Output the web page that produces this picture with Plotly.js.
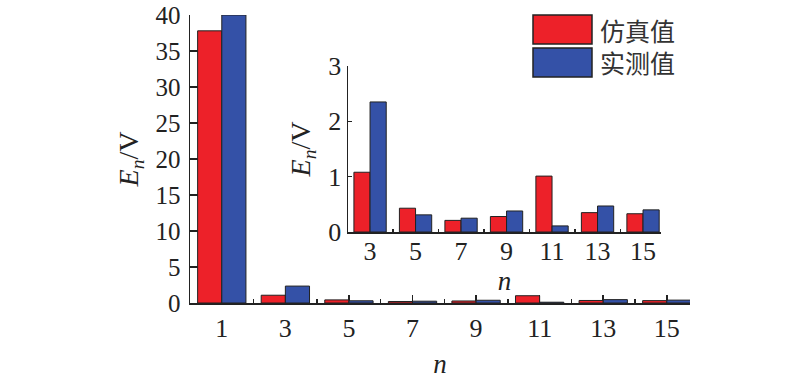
<!DOCTYPE html>
<html>
<head>
<meta charset="utf-8">
<script src="https://cdn.plot.ly/plotly-3.0.1.min.js"></script>
<style>html,body{margin:0;padding:0;background:#fff;}#chart{width:800px;height:380px;}</style>
</head>
<body>
<div id="chart"></div>
<script>
// Data
var harmonics = [1, 3, 5, 7, 9, 11, 13, 15];
var simValues = [37.8, 1.08, 0.43, 0.21, 0.28, 1.01, 0.35, 0.33];
var measValues = [40.0, 2.35, 0.31, 0.25, 0.38, 0.11, 0.47, 0.40];
var seriesNames = ['仿真值', '实测值'];
var yTitle = '<i>E</i><sub><i>n</i></sub>/V';
var xTitle = '<i>n</i>';

var RED = '#ED2129', BLUE = '#3451A7', EDGE = '#222222';
var serif = 'Liberation Serif';
var cjk = 'Noto Sans CJK SC';

var insetN = harmonics.slice(1), insetSim = simValues.slice(1), insetMeas = measValues.slice(1);
var wMain = 0.76, wIn = 0.71;

var traces = [
  {type:'bar', x:harmonics, y:simValues, name:seriesNames[0], xaxis:'x', yaxis:'y',
   width:wMain, offset:-wMain, marker:{color:RED, line:{color:EDGE, width:1}}, showlegend:false},
  {type:'bar', x:harmonics, y:measValues, name:seriesNames[1], xaxis:'x', yaxis:'y',
   width:wMain, offset:0, marker:{color:BLUE, line:{color:EDGE, width:1}}, showlegend:false},
  {type:'bar', x:insetN, y:insetSim, name:seriesNames[0], xaxis:'x2', yaxis:'y2',
   width:wIn, offset:-wIn, marker:{color:RED, line:{color:EDGE, width:1}}, showlegend:false},
  {type:'bar', x:insetN, y:insetMeas, name:seriesNames[1], xaxis:'x2', yaxis:'y2',
   width:wIn, offset:0, marker:{color:BLUE, line:{color:EDGE, width:1}}, showlegend:false}
];

var axCommon = {showline:true, linecolor:'#222', linewidth:1.5, showgrid:false, zeroline:false,
  ticks:'inside', tickcolor:'#222', tickwidth:1.5, layer:'below traces'};

var layout = {
  width:800, height:380,
  margin:{l:190, r:110, t:15, b:77},
  paper_bgcolor:'#fff', plot_bgcolor:'rgba(0,0,0,0)',
  barmode:'overlay',
  font:{family:serif, color:'#222'},
  xaxis: Object.assign({}, axCommon, {
    range:[0, 15.73], tickmode:'linear', tick0:1, dtick:2, ticklen:8,
    tickfont:{family:serif, size:26, color:'#222'}, ticklabelstandoff:1,
    minor:{dtick:1, ticks:'inside', ticklen:4, tickcolor:'#222', tickwidth:1.5},
    title:{text:xTitle, font:{family:serif, size:27, color:'#222'}, standoff:12},
    anchor:'y'
  }),
  yaxis: Object.assign({}, axCommon, {
    range:[0, 40], tickmode:'linear', tick0:0, dtick:5, ticklen:8,
    tickfont:{family:serif, size:25, color:'#222'}, ticklabelstandoff:3,
    title:{text:yTitle, font:{family:serif, size:28, color:'#222'}, standoff:8},
    anchor:'x'
  }),
  xaxis2: Object.assign({}, axCommon, {
    domain:[0.316, 0.942], anchor:'y2',
    range:[2.03, 15.79], tickmode:'linear', tick0:3, dtick:2, ticklen:6,
    tickfont:{family:serif, size:26, color:'#222'}, ticklabelstandoff:-5,
    minor:{dtick:1, ticks:'inside', ticklen:3, tickcolor:'#222', tickwidth:1.5},
    title:{text:xTitle, font:{family:serif, size:27, color:'#222'}, standoff:0}
  }),
  yaxis2: Object.assign({}, axCommon, {
    domain:[0.2465, 0.823], anchor:'x2',
    range:[0, 3], tickmode:'linear', tick0:0, dtick:1, ticklen:4,
    tickfont:{family:serif, size:26, color:'#222'},
    title:{text:yTitle, font:{family:serif, size:28, color:'#222'}, standoff:9}
  }),
  shapes:[
    {type:'rect', xref:'paper', yref:'paper', x0:0.686, x1:0.804, y0:0.899, y1:1.0,
     fillcolor:RED, line:{color:EDGE, width:1.5}},
    {type:'rect', xref:'paper', yref:'paper', x0:0.686, x1:0.804, y0:0.785, y1:0.885,
     fillcolor:BLUE, line:{color:EDGE, width:1.5}}
  ],
  annotations:[
    {xref:'paper', yref:'paper', x:0.816, y:0.948, xanchor:'left', yanchor:'middle', height:30,
     text:seriesNames[0], showarrow:false, font:{family:cjk, size:25, color:'#333'}},
    {xref:'paper', yref:'paper', x:0.816, y:0.837, xanchor:'left', yanchor:'middle', height:30,
     text:seriesNames[1], showarrow:false, font:{family:cjk, size:25, color:'#333'}}
  ]
};

Plotly.newPlot('chart', traces, layout, {staticPlot:true, displayModeBar:false});
</script>
</body>
</html>
